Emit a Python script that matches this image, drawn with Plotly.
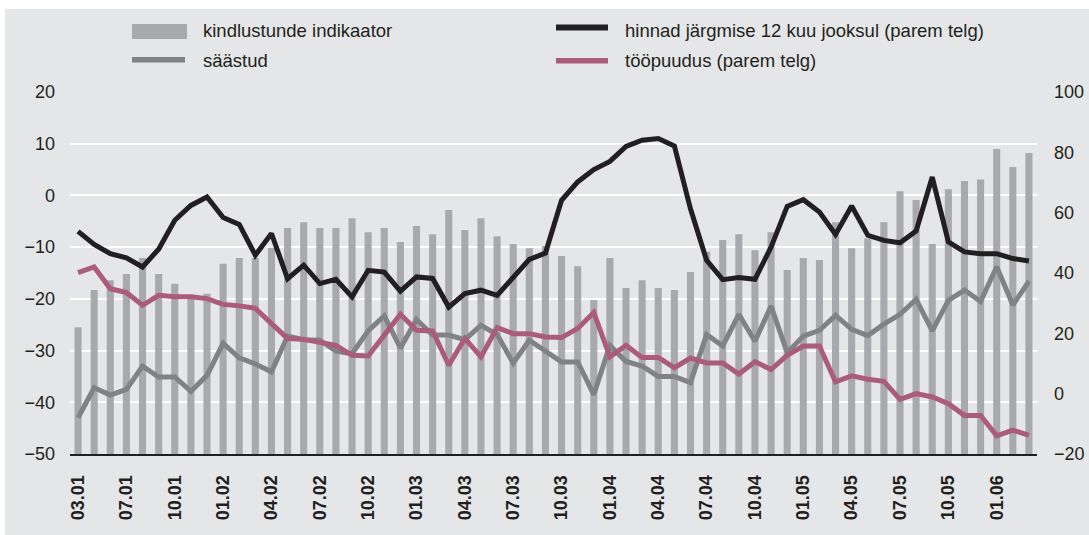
import plotly.graph_objects as go

# ---- data ----
months = [f"{m:02d}.{y:02d}" for y in range(1, 7) for m in range(1, 13)][3:63]  # 04.01 .. 03.06
tick_labels = ["03.01", "07.01", "10.01", "01.02", "04.02", "07.02", "10.02", "01.03",
               "04.03", "07.03", "10.03", "01.04", "04.04", "07.04", "10.04", "01.05",
               "04.05", "07.05", "10.05", "01.06"]

confidence = [-25.5, -18.3, -16.4, -15.2, -12.1, -15.2, -17.1, -20.0, -19.0, -13.2,
              -12.1, -12.1, -10.1, -6.3, -5.2, -6.3, -6.3, -4.4, -7.1, -6.3,
              -9.0, -5.9, -7.5, -2.8, -6.7, -4.4, -7.9, -9.4, -10.2, -9.8,
              -11.7, -13.7, -20.2, -12.1, -17.9, -16.4, -17.9, -18.3, -14.8, -10.9,
              -8.6, -7.5, -10.6, -7.1, -14.4, -12.1, -12.5, -5.2, -10.2, -8.3,
              -5.2, 0.8, -0.9, -9.4, 1.2, 2.8, 3.1, 9.0, 5.5, 8.2]

savings = [-43.0, -37.2, -38.6, -37.5, -33.0, -35.1, -35.1, -37.9, -34.8, -28.6,
           -31.4, -32.6, -34.1, -27.2, -27.9, -28.0, -30.1, -30.6, -26.2, -23.3,
           -29.5, -24.0, -27.0, -27.0, -27.9, -25.1, -26.9, -32.4, -28.0, -30.1,
           -32.2, -32.2, -38.5, -29.0, -32.1, -33.0, -35.0, -35.0, -36.2, -26.9,
           -29.1, -23.0, -28.2, -21.4, -30.4, -27.2, -26.1, -23.2, -25.9, -27.1,
           -24.9, -23.0, -20.1, -26.2, -20.3, -18.3, -20.5, -13.8, -21.2, -16.6]

prices = [53.8, 49.5, 46.4, 45.0, 42.0, 47.9, 57.5, 62.4, 65.2, 58.4,
          56.1, 45.9, 53.1, 38.1, 42.6, 36.5, 37.9, 32.1, 40.9, 40.3,
          34.0, 38.7, 38.2, 28.7, 33.2, 34.3, 32.6, 38.7, 44.5, 46.6,
          64.1, 70.2, 74.3, 77.0, 82.0, 84.0, 84.6, 82.1, 61.3, 44.2,
          37.8, 38.5, 37.9, 48.6, 62.1, 64.3, 60.2, 52.8, 62.2, 52.5,
          50.8, 50.0, 53.9, 71.8, 50.3, 47.0, 46.4, 46.4, 44.8, 44.0]

unemployment = [40.1, 42.0, 34.8, 33.5, 29.3, 32.6, 32.1, 32.1, 31.5, 29.6,
                29.1, 28.3, 23.2, 18.3, 18.0, 17.1, 16.0, 12.7, 12.5, 19.4,
                26.3, 21.0, 20.8, 9.4, 18.3, 12.2, 21.9, 19.9, 19.9, 18.8,
                18.6, 21.6, 26.9, 12.2, 16.0, 12.0, 12.0, 8.6, 11.8, 10.2,
                10.2, 6.5, 10.6, 8.0, 12.7, 15.8, 15.8, 3.9, 5.9, 4.8,
                4.1, -1.9, 0.0, -1.1, -3.3, -7.2, -7.2, -14.0, -12.1, -13.8]

legend_names = ["kindlustunde indikaator", "säästud",
                "hinnad järgmise 12 kuu jooksul (parem telg)", "tööpuudus (parem telg)"]

# ---- style ----
BG = "#E5E6E7"
C_BAR = "#A7A9AC"
C_SAV = "#808285"
C_PRICE = "#231F20"
C_UNEMP = "#AB5C7C"
DARK = "#231F20"
FONT = "Liberation Sans, Arial, sans-serif"
LEFT_MIN, LEFT_MAX = -50, 20

W, H = 1089, 535
ML, MR, MT, MB = 70, 52, 92, 81
PW, PH = W - ML - MR, H - MT - MB

fig = go.Figure()
fig.add_trace(go.Bar(x=months, y=[v - LEFT_MIN for v in confidence], base=LEFT_MIN,
                     marker=dict(color=C_BAR, line=dict(width=0)), name=legend_names[0]))
fig.add_trace(go.Scatter(x=months, y=savings, mode="lines",
                         line=dict(color=C_SAV, width=5), name=legend_names[1]))
fig.add_trace(go.Scatter(x=months, y=unemployment, mode="lines", yaxis="y2",
                         line=dict(color=C_UNEMP, width=5), name=legend_names[3]))
fig.add_trace(go.Scatter(x=months, y=prices, mode="lines", yaxis="y2",
                         line=dict(color=C_PRICE, width=5), name=legend_names[2]))


def px_x(p):
    return (p - ML) / PW


def px_y(p):
    return (H - MB - p) / PH


shapes = []
annotations = []
# white frame strips at top and left
shapes.append(dict(type="rect", xref="paper", yref="paper", x0=px_x(-5), x1=px_x(W + 5),
                   y0=px_y(9), y1=px_y(-5), fillcolor="white", line=dict(width=0), layer="below"))
shapes.append(dict(type="rect", xref="paper", yref="paper", x0=px_x(-5), x1=px_x(5),
                   y0=px_y(H + 5), y1=px_y(-5), fillcolor="white", line=dict(width=0), layer="below"))

# manual legend
legend_items = [
    (legend_names[0], C_BAR, 132, 187, 24, 39, 201, 30),
    (legend_names[1], C_SAV, 132, 185, 57, 62.5, 201, 61),
    (legend_names[2], C_PRICE, 556, 608, 24.5, 30.5, 623, 30),
    (legend_names[3], C_UNEMP, 556, 608, 58, 63.5, 623, 61),
]
for name, col, x0, x1, y0, y1, tx, ty in legend_items:
    shapes.append(dict(type="rect", xref="paper", yref="paper", x0=px_x(x0), x1=px_x(x1),
                       y0=px_y(y1), y1=px_y(y0), fillcolor=col, line=dict(width=0)))
    annotations.append(dict(xref="paper", yref="paper", x=px_x(tx), y=px_y(ty), text=name,
                            showarrow=False, xanchor="left", yanchor="middle",
                            font=dict(family=FONT, size=18.5, color=DARK)))

fig.update_layout(
    template="none",
    width=W, height=H,
    margin=dict(l=ML, r=MR, t=MT, b=MB, pad=0),
    paper_bgcolor=BG, plot_bgcolor=BG,
    showlegend=False,
    bargap=0.56,
    shapes=shapes,
    annotations=annotations,
    font=dict(family=FONT, color=DARK),
    xaxis=dict(type="category", range=[-0.5, len(months) - 0.5], automargin=False,
               tickvals=months[0::3], ticktext=tick_labels, tickangle=-90,
               tickfont=dict(family=FONT, size=18, color=DARK, weight="bold"),
               showgrid=False, showline=True, linecolor=DARK, linewidth=2,
               ticks="", ticklabelstandoff=12),
    yaxis=dict(range=[LEFT_MIN, LEFT_MAX], dtick=10, tick0=0, automargin=False,
               showgrid=True, gridcolor="white", gridwidth=2, zeroline=False,
               showline=False, ticks="", ticklabelstandoff=14,
               tickfont=dict(family=FONT, size=18, color=DARK)),
    yaxis2=dict(range=[-20, 100], dtick=20, tick0=0, overlaying="y", side="right",
                automargin=False,
                showgrid=False, zeroline=False, showline=False, ticks="",
                ticklabelstandoff=16,
                tickfont=dict(family=FONT, size=18, color=DARK)),
)

fig.write_html("out.html", config={"displayModeBar": False},
               post_script="document.body.style.margin='0';")
